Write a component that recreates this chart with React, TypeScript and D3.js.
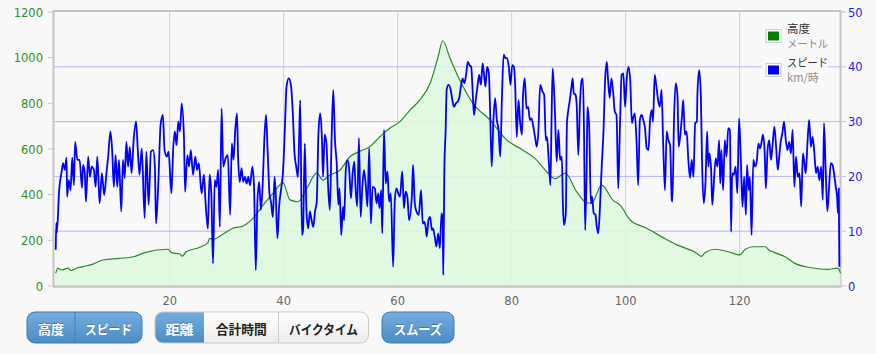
import React from 'react';
import * as d3 from 'd3';

// elevation profile (km / metres)
const elevKm = [0, 0.4, 1.0, 2.2, 2.7, 3.6, 4.8, 6.5, 8.3, 11.2, 13.6, 15.6, 19.7, 20.3, 21.8, 22.2, 22.9, 25.3, 26.7, 27.0, 27.6, 29.4, 31.1, 32.9, 34.6, 36.4, 38.1, 39.9, 41.1, 42.5, 44.1, 45.8, 46.9, 48.1, 49.9, 51.6, 53.4, 55.1, 56.9, 58.6, 60.4, 62.2, 63.9, 65.7, 67.1, 67.9, 69.2, 70.9, 73.2, 76.2, 79.1, 81.9, 84.1, 86.4, 87.6, 89.4, 91.4, 92.9, 94.0, 95.8, 97.8, 99.0, 100.8, 103.7, 106.5, 109.0, 112.2, 113.3, 113.9, 115.7, 118.0, 120.0, 121.0, 122.4, 124.5, 125.1, 126.2, 128.0, 129.7, 132.6, 135.5, 137.2, 137.7];
const elevM = [56, 78, 70, 78, 67, 78, 85, 96, 114, 121, 128, 146, 161, 146, 140, 131, 150, 170, 190, 209, 204, 228, 253, 263, 296, 355, 406, 452, 377, 369, 430, 494, 464, 486, 508, 566, 590, 610, 654, 691, 720, 771, 815, 888, 1004, 1074, 997, 902, 800, 727, 640, 596, 559, 494, 470, 494, 413, 369, 362, 442, 375, 355, 289, 253, 213, 180, 148, 130, 146, 161, 150, 136, 161, 172, 172, 158, 146, 128, 99, 80, 73, 78, 56];

// speed (km / km/h)
const speedKm = [0, 0.1, 0.2, 0.6, 1.0, 1.3, 1.6, 1.9, 2.0, 2.3, 2.6, 2.9, 3.2, 3.4, 3.8, 4.2, 4.6, 4.8, 5.1, 5.3, 5.7, 6.0, 6.3, 6.7, 7.0, 7.3, 7.7, 8.1, 8.5, 8.9, 9.2, 9.6, 9.9, 10.2, 10.5, 10.8, 11.1, 11.5, 11.8, 12.1, 12.4, 12.7, 13.0, 13.3, 13.7, 14.1, 14.4, 14.7, 15.1, 15.6, 15.9, 16.3, 16.7, 17.1, 17.4, 17.6, 18.0, 18.4, 18.8, 19.1, 19.5, 19.8, 20.3, 20.6, 20.9, 21.2, 21.5, 21.8, 22.1, 22.5, 22.7, 23.1, 23.4, 23.7, 24.1, 24.5, 24.8, 25.1, 25.6, 26.0, 26.3, 26.7, 27.0, 27.3, 27.6, 27.9, 28.2, 28.5, 28.8, 29.1, 29.4, 29.8, 30.2, 30.6, 30.9, 31.2, 31.5, 31.8, 32.0, 32.3, 32.6, 32.9, 33.2, 33.5, 33.8, 34.1, 34.5, 34.8, 35.1, 35.4, 35.7, 36.0, 36.3, 36.6, 36.9, 37.2, 37.5, 37.8, 38.1, 38.4, 38.6, 38.9, 39.2, 39.6, 39.9, 40.2, 40.5, 40.9, 41.3, 41.6, 41.9, 42.2, 42.5, 42.7, 42.9, 43.2, 43.4, 43.7, 44.0, 44.3, 44.6, 44.9, 45.2, 45.5, 45.8, 46.1, 46.4, 46.7, 46.9, 47.2, 47.5, 47.8, 48.1, 48.4, 48.7, 49.0, 49.3, 49.6, 49.8, 50.1, 50.4, 50.6, 50.9, 51.2, 51.5, 51.8, 52.1, 52.4, 52.6, 52.9, 53.2, 53.5, 53.8, 54.1, 54.4, 54.7, 55.0, 55.3, 55.6, 56.0, 56.3, 56.6, 56.8, 57.1, 57.3, 57.6, 57.9, 58.2, 58.5, 58.8, 59.2, 59.5, 59.8, 60.1, 60.4, 60.8, 61.1, 61.4, 61.7, 62.0, 62.5, 62.7, 63.0, 63.3, 63.7, 64.1, 64.4, 64.7, 64.9, 65.1, 65.4, 65.7, 66.0, 66.2, 66.5, 66.8, 67.1, 67.4, 67.7, 67.9, 68.0, 68.2, 68.4, 68.6, 68.9, 69.3, 69.6, 69.9, 70.2, 70.5, 70.8, 71.1, 71.4, 71.7, 72.0, 72.3, 72.6, 72.9, 73.2, 73.4, 73.7, 74.0, 74.3, 74.6, 74.9, 75.1, 75.4, 75.7, 76.0, 76.2, 76.5, 76.8, 77.1, 77.4, 77.7, 78.0, 78.3, 78.6, 78.9, 79.2, 79.5, 79.8, 80.1, 80.4, 80.6, 80.9, 81.2, 81.5, 81.8, 82.0, 82.3, 82.6, 82.9, 83.2, 83.5, 83.8, 84.1, 84.4, 84.7, 85.0, 85.4, 85.7, 86.0, 86.2, 86.5, 86.8, 87.0, 87.2, 87.6, 87.9, 88.2, 88.5, 88.8, 89.0, 89.2, 89.5, 89.7, 89.9, 90.2, 90.5, 90.7, 90.9, 91.2, 91.4, 91.7, 92.0, 92.3, 92.5, 92.7, 92.9, 93.2, 93.3, 93.6, 93.9, 94.1, 94.4, 94.7, 94.9, 95.2, 95.5, 95.8, 96.1, 96.4, 96.7, 96.9, 97.2, 97.5, 97.8, 98.1, 98.4, 98.7, 99.0, 99.3, 99.6, 99.9, 100.2, 100.5, 100.8, 101.1, 101.3, 101.6, 101.9, 102.2, 102.5, 102.8, 103.1, 103.4, 103.7, 104.0, 104.3, 104.6, 104.8, 105.1, 105.4, 105.7, 106.0, 106.3, 106.6, 106.9, 107.2, 107.5, 107.8, 108.1, 108.2, 108.5, 108.8, 109.1, 109.3, 109.6, 109.9, 110.1, 110.4, 110.7, 111.0, 111.3, 111.6, 111.9, 112.2, 112.5, 112.6, 112.9, 113.2, 113.4, 113.7, 114.0, 114.3, 114.5, 114.7, 115.0, 115.2, 115.4, 115.8, 116.1, 116.4, 116.6, 116.8, 117.1, 117.4, 117.7, 118.0, 118.3, 118.5, 118.7, 119.0, 119.3, 119.6, 119.9, 120.2, 120.5, 120.8, 121.1, 121.3, 121.6, 121.8, 122.1, 122.4, 122.7, 123.0, 123.3, 123.6, 123.9, 124.1, 124.4, 124.6, 124.9, 125.2, 125.5, 125.8, 126.1, 126.4, 126.7, 126.9, 127.2, 127.5, 127.8, 128.1, 128.4, 128.7, 129.0, 129.3, 129.6, 129.9, 130.2, 130.5, 130.8, 131.1, 131.3, 131.6, 131.9, 132.2, 132.5, 132.8, 133.1, 133.4, 133.7, 134.0, 134.3, 134.6, 134.8, 135.1, 135.4, 135.7, 136.0, 136.3, 136.6, 136.9, 137.1, 137.25, 137.4, 137.5];
const speedKmh = [6.6, 11.5, 9.7, 17.5, 20.6, 22.4, 21.2, 23.4, 16.3, 19.3, 17.5, 23.4, 18.4, 26.3, 23, 23, 17.9, 22.1, 20.6, 15.4, 23.6, 19.9, 21.8, 21.2, 18.1, 23.6, 15.1, 20.6, 16.6, 20.6, 23.6, 28.2, 24.8, 18.1, 23.9, 18.1, 23, 13.6, 23, 19.7, 26.3, 21.8, 25.4, 20.6, 27, 30, 24.8, 20.3, 25.1, 12.4, 24.5, 14.8, 24.5, 24.8, 21.8, 11.4, 18.7, 29.4, 31.2, 24.8, 23.6, 24.5, 16.9, 24.8, 28.2, 25.7, 30, 28.2, 33.3, 27.2, 17.2, 23.9, 21.8, 24.8, 20.3, 23.6, 21.2, 22.4, 16.9, 20.3, 15.1, 10.5, 20.3, 16.9, 4.1, 19.3, 18.1, 21.2, 10.8, 32.4, 21.8, 23.3, 23.9, 13, 26, 23, 28.5, 31.5, 23.6, 19, 21.5, 19, 19.9, 18.7, 19.9, 18.4, 21.8, 18.1, 2.9, 15.7, 19, 13.9, 18.1, 26.6, 31.2, 24.2, 16.9, 15.1, 12.6, 19.9, 16.9, 8.7, 14.5, 18.1, 21.2, 28.5, 36.4, 37.9, 36.4, 31.5, 24.2, 21.8, 19.9, 26.6, 33.9, 9.3, 10.2, 26, 13.6, 10.5, 13.6, 12, 10.8, 13.6, 15.4, 27.9, 31.5, 27.2, 19.9, 27.6, 26, 18.1, 13.9, 26.6, 35.8, 26.6, 22.4, 14.8, 17.8, 9.3, 14.5, 12, 21.2, 23, 21.2, 16, 20.6, 22.7, 18.1, 14.5, 27, 12.6, 18.1, 21.2, 18.4, 14.5, 25.1, 11.4, 18.1, 17.8, 15.1, 16.9, 14.2, 17.5, 9.6, 28.5, 18.7, 20.9, 15.4, 16.9, 3.5, 15.7, 17.8, 16.9, 16.3, 20.9, 14.2, 17.2, 16.3, 12, 16.6, 22.1, 15.1, 13.6, 13, 17.5, 11.4, 11.7, 10.8, 9, 12, 12.6, 10.2, 10.5, 9, 7.2, 9.6, 6.9, 13.3, 12, 2, 21.8, 27.9, 35.8, 36.7, 35.8, 33.9, 32.7, 33.3, 33.6, 34.3, 36.4, 37.9, 37, 38.5, 40.9, 40.3, 40, 34.6, 31.2, 33.9, 36.4, 38.5, 36.7, 40.6, 39.1, 36.4, 40, 38.8, 32.7, 21.8, 30.3, 34.3, 30.3, 28.5, 23.6, 34.6, 42.2, 41.6, 41.6, 40, 36.7, 40.3, 40, 37, 27.2, 33.9, 29.7, 27.6, 34.9, 37.9, 32.4, 32.7, 30.3, 30.6, 29.1, 27.2, 25.4, 28.5, 36.7, 35.5, 34.9, 26.6, 27.2, 23, 18.4, 30.3, 39.7, 31.5, 22.7, 28.5, 23, 23.6, 14.5, 11.1, 13.3, 29.7, 31.8, 33.9, 36.4, 37.9, 35.2, 34.9, 33.3, 23.9, 33.6, 37.6, 37.9, 27.9, 10.2, 24.2, 32.7, 29.1, 15.1, 16.3, 13.3, 13, 11.1, 9.6, 14.5, 21.8, 27.9, 37.6, 40.9, 37.9, 34.3, 37.9, 35.5, 31.8, 31.2, 17.8, 29.1, 38.5, 38.8, 32.7, 37.9, 40, 37.6, 29.7, 30.6, 31.5, 26.6, 18.4, 30.3, 31.2, 30.3, 28.8, 25.1, 24.8, 30.6, 32.1, 30, 38.5, 36.4, 33.9, 32.7, 35.8, 25.4, 17.5, 28.2, 26.6, 25.7, 15.7, 15.4, 30.9, 37, 34.6, 25.4, 27.6, 31.2, 33.9, 27.6, 28.2, 23, 19.7, 23, 19.9, 29.7, 30, 35.2, 39.4, 34.6, 23, 15.1, 18.7, 28.2, 21.8, 24.2, 21.2, 14.8, 17.5, 23.3, 21.8, 26.6, 18.7, 24.8, 17.5, 26.6, 23.6, 28.8, 28.5, 9.9, 20.6, 20.3, 21.8, 16.9, 30.6, 23.6, 14.5, 19.9, 13, 22.1, 17.5, 19.9, 9.3, 23, 21.8, 22.7, 26, 25.1, 26.6, 27.6, 24.2, 17.8, 24.8, 26.6, 23, 26, 29.1, 25.4, 21.2, 23, 26.3, 27.9, 30, 26.6, 24.8, 26.3, 24.2, 28.5, 18.1, 23.6, 19.9, 20.6, 14.5, 24.2, 23, 20.6, 26, 30.3, 25.4, 27.2, 24.5, 20.6, 21.8, 19.3, 21.8, 15.7, 29.7, 21.2, 13.6, 18.1, 22.4, 22.1, 20.3, 17.8, 16.3, 13.3, 17.8, 3.5];

const xTicks = [20, 40, 60, 80, 100, 120];
const elevTicks = [0, 200, 400, 600, 800, 1000, 1200];
const speedTicks = [0, 10, 20, 30, 40, 50];

const unitButtons = ['高度', 'スピード'];
const axisButtons = ['距離', '合計時間', 'バイクタイム'];
const smoothButton = 'スムーズ';

const W = 876;
const H = 354;
const bg = '#f8f8f8';
const axisFont = '"DejaVu Sans", Verdana, sans-serif';
const jpFont = '"Noto Sans CJK JP", sans-serif';

const App: React.FC = () => {
  const left = 53.5, right = 840.5, top = 11, bottom = 286.5;

  const x = d3.scaleLinear().domain([-0.39, 137.7]).range([left, right]);
  const yElev = d3.scaleLinear().domain([0, 1200]).range([286, 12]);
  const ySpeed = d3.scaleLinear().domain([0, 50]).range([286, 12]);

  const elevIdx = d3.range(elevKm.length);
  const area = d3.area<number>()
    .x(i => x(elevKm[i]))
    .y0(yElev(0))
    .y1(i => yElev(elevM[i]))
    .curve(d3.curveMonotoneX);
  const elevLine = d3.line<number>()
    .x(i => x(elevKm[i]))
    .y(i => yElev(elevM[i]))
    .curve(d3.curveMonotoneX);
  const speedLine = d3.line<number>()
    .x(i => x(speedKm[i]))
    .y(i => ySpeed(speedKmh[i]))
    .curve(d3.curveMonotoneX);

  // button layout: [x0, x1] for each segment
  const unitSegs = [[27, 75], [75, 142]];
  const axisSegs = [[155, 204], [204, 278.5], [278.5, 368.5]];
  const smoothSeg = [382, 454];
  const textW: Record<string, number> = {
    '高度': 26, 'スピード': 47, '距離': 28, '合計時間': 51, 'バイクタイム': 69, 'スムーズ': 48,
  };
  const by0 = 312, by1 = 343;

  const segText = (label: string, x0: number, x1: number, active: boolean) => (
    <text key={label} x={(x0 + x1) / 2} y={(by0 + by1) / 2 + 1} textAnchor="middle"
      dominantBaseline="central" fontFamily={jpFont} fontWeight="bold" fontSize={13}
      textLength={textW[label]} lengthAdjust="spacingAndGlyphs"
      fill={active ? '#ffffff' : '#222222'}
      style={active ? { textShadow: '0 -1px 0 rgba(0,0,0,0.25)' } : undefined}>{label}</text>
  );

  return (
    <svg width={W} height={H} style={{ position: 'absolute', left: 0, top: 0, background: bg }}>
      <defs>
        <linearGradient id="btnBlue" x1="0" y1="0" x2="0" y2="1">
          <stop offset="0" stopColor="#74aede" />
          <stop offset="1" stopColor="#4b8bc4" />
        </linearGradient>
        <linearGradient id="btnWhite" x1="0" y1="0" x2="0" y2="1">
          <stop offset="0" stopColor="#ffffff" />
          <stop offset="1" stopColor="#ececec" />
        </linearGradient>
        <clipPath id="plotClip">
          <rect x={left} y={top} width={right - left + 1} height={bottom - top} />
        </clipPath>
        <clipPath id="axisGroupClip">
          <rect x={axisSegs[0][0]} y={by0} width={axisSegs[2][1] - axisSegs[0][0]} height={by1 - by0} rx={8} />
        </clipPath>
      </defs>

      <rect x={0} y={0} width={W} height={H} fill={bg} />

      {/* grid */}
      {xTicks.map(t => (
        <line key={`gx${t}`} x1={x(t)} x2={x(t)} y1={top} y2={bottom} stroke="#cfcfcf" strokeWidth={1} />
      ))}
      {speedTicks.filter(t => t > 0 && t < 50).map(t => (
        <line key={`gy${t}`} x1={left} x2={right} y1={ySpeed(t)} y2={ySpeed(t)} stroke="#b4b4ff" strokeWidth={1} />
      ))}

      {/* plot frame */}
      <rect x={left} y={top} width={right - left} height={bottom - top} fill="none" stroke="#c4c4c4" strokeWidth={2} />

      <g clipPath="url(#plotClip)">
        <path d={area(elevIdx) ?? ''} fill="#def7de" fillOpacity={0.9} />
        <path d={elevLine(elevIdx) ?? ''} fill="none" stroke="#2a8a2a" strokeWidth={1.2} />
        <path d={speedLine(d3.range(speedKm.length)) ?? ''} fill="none" stroke="#0000ff" strokeWidth={1.8}
          strokeLinejoin="round" />
      </g>
      <line x1={left} x2={right} y1={bottom} y2={bottom} stroke="#c4c4c4" strokeWidth={2} />

      {/* left axis */}
      {elevTicks.map(t => (
        <g key={`l${t}`}>
          <line x1={48} x2={53} y1={yElev(t)} y2={yElev(t)} stroke="#c4c4c4" strokeWidth={1} />
          <text x={43} y={yElev(t) + 4.5} textAnchor="end" fontFamily={axisFont} fontSize={11.5} fill="#2f8f1f">{t}</text>
        </g>
      ))}
      {/* right axis */}
      {speedTicks.map(t => (
        <g key={`r${t}`}>
          <line x1={841} x2={846} y1={ySpeed(t)} y2={ySpeed(t)} stroke="#c4c4c4" strokeWidth={1} />
          <text x={848} y={ySpeed(t) + 4.5} textAnchor="start" fontFamily={axisFont} fontSize={11.5} fill="#1c1cf0">{t}</text>
        </g>
      ))}
      {/* bottom axis */}
      {xTicks.map(t => (
        <text key={`b${t}`} x={x(t)} y={305} textAnchor="middle" fontFamily={axisFont} fontSize={11.5} fill="#666666">{t}</text>
      ))}

      {/* legend */}
      <rect x={762} y={19} width={66} height={67} fill={bg} />
      <rect x={766} y={29.5} width={15} height={13} fill="#ffffff" stroke="#cccccc" strokeWidth={1} />
      <rect x={768} y={31.5} width={11} height={9} fill="#008000" />
      <text x={787} y={33} fontFamily={jpFont} fontSize={11.5} fill="#333333">高度</text>
      <text x={787} y={48} fontFamily={jpFont} fontSize={11} fill="#888888" textLength={41} lengthAdjust="spacingAndGlyphs">メートル</text>
      <rect x={766} y={63.5} width={15} height={13} fill="#ffffff" stroke="#cccccc" strokeWidth={1} />
      <rect x={768} y={65.5} width={11} height={9} fill="#0000ff" />
      <text x={787} y={67} fontFamily={jpFont} fontSize={11.5} fill="#333333" textLength={41} lengthAdjust="spacingAndGlyphs">スピード</text>
      <text x={787} y={82} fontFamily={jpFont} fontSize={11.5} fill="#999088" textLength={32} lengthAdjust="spacingAndGlyphs">km/時</text>

      {/* buttons: 高度 / スピード */}
      <rect x={unitSegs[0][0]} y={by0} width={unitSegs[1][1] - unitSegs[0][0]} height={by1 - by0} rx={8}
        fill="url(#btnBlue)" stroke="#3f7db6" strokeWidth={1} />
      <line x1={unitSegs[1][0]} x2={unitSegs[1][0]} y1={by0} y2={by1} stroke="#3f7db6" strokeWidth={1} />
      {unitButtons.map((b, i) => segText(b, unitSegs[i][0], unitSegs[i][1], true))}

      {/* buttons: 距離 / 合計時間 / バイクタイム */}
      <g clipPath="url(#axisGroupClip)">
        <rect x={axisSegs[0][0]} y={by0} width={axisSegs[2][1] - axisSegs[0][0]} height={by1 - by0} fill="url(#btnWhite)" />
        <rect x={axisSegs[0][0]} y={by0} width={axisSegs[0][1] - axisSegs[0][0]} height={by1 - by0} fill="url(#btnBlue)" />
      </g>
      <rect x={axisSegs[0][0]} y={by0} width={axisSegs[2][1] - axisSegs[0][0]} height={by1 - by0} rx={8}
        fill="none" stroke="#c8c8c8" strokeWidth={1} />
      <line x1={axisSegs[1][1]} x2={axisSegs[1][1]} y1={by0} y2={by1} stroke="#cccccc" strokeWidth={1} />
      {axisButtons.map((b, i) => segText(b, axisSegs[i][0], axisSegs[i][1], i === 0))}

      {/* button: スムーズ */}
      <rect x={smoothSeg[0]} y={by0} width={smoothSeg[1] - smoothSeg[0]} height={by1 - by0} rx={8}
        fill="url(#btnBlue)" stroke="#3f7db6" strokeWidth={1} />
      {segText(smoothButton, smoothSeg[0], smoothSeg[1], true)}
    </svg>
  );
};

export default App;
